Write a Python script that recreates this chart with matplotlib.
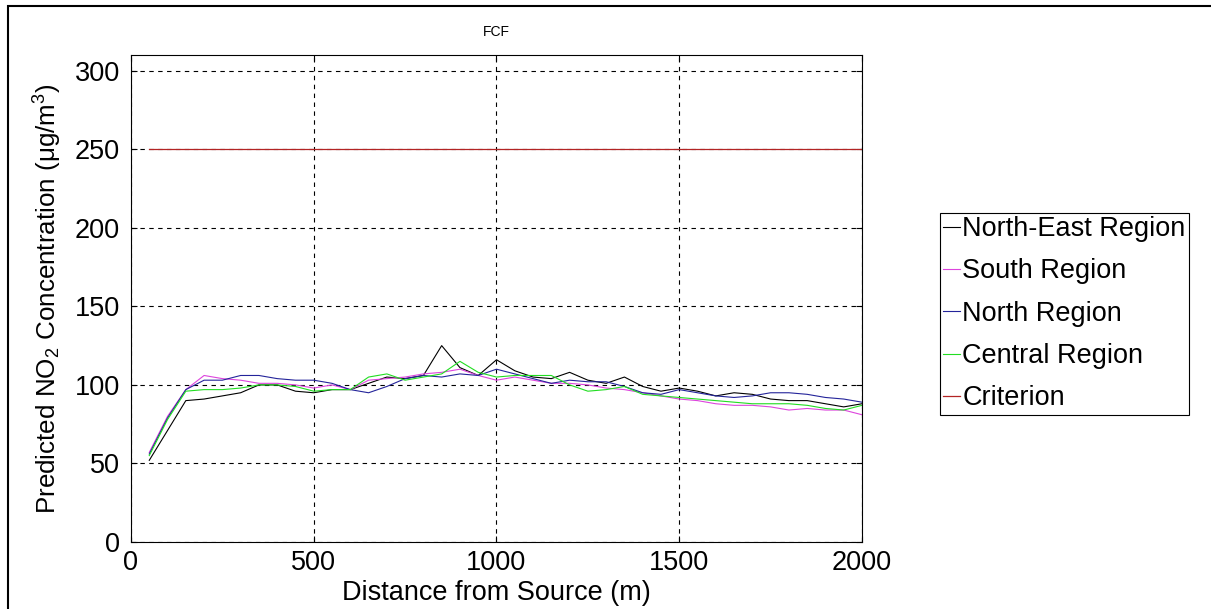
# NO2 concentration vs distance from source, FCF case
import matplotlib
matplotlib.use('Agg')
import matplotlib.pyplot as plt
from matplotlib.patches import Rectangle

plt.rcParams['font.family'] = ['Liberation Sans', 'DejaVu Sans']
plt.rcParams['mathtext.fontset'] = 'custom'
plt.rcParams['mathtext.rm'] = 'Liberation Sans'
plt.rcParams['mathtext.it'] = 'Liberation Sans:italic'

# data
distance = list(range(50, 2050, 50))
northEast = [52, 71, 90, 91, 93, 95, 100, 100, 96, 95,
             97, 97, 101, 105, 104, 106, 125, 111, 106, 116,
             109, 105, 104, 108, 103, 101, 105, 99, 96, 98,
             96, 93, 95, 94, 91, 90, 90, 88, 86, 88]
south = [57, 80, 97, 106, 104, 103, 101, 101, 100, 98,
         100, 97, 103, 104, 105, 107, 108, 110, 106, 103,
         105, 103, 101, 101, 100, 98, 97, 95, 93, 91,
         90, 88, 87, 87, 86, 84, 85, 84, 84, 81]
north = [56, 79, 97, 103, 103, 106, 106, 104, 103, 103,
         101, 97, 95, 99, 104, 106, 105, 107, 106, 110,
         107, 104, 101, 103, 102, 102, 99, 95, 94, 97,
         95, 93, 92, 93, 95, 95, 94, 92, 91, 89]
central = [55, 78, 96, 97, 97, 98, 100, 100, 99, 96,
           97, 97, 105, 107, 103, 105, 107, 115, 108, 105,
           106, 106, 106, 100, 96, 97, 99, 94, 93, 92,
           91, 90, 89, 88, 88, 88, 87, 85, 84, 87]
criterion = [250] * len(distance)

seriesNames = ['North-East Region', 'South Region', 'North Region',
               'Central Region', 'Criterion']
xTicks = [0, 500, 1000, 1500, 2000]
yTicks = [0, 50, 100, 150, 200, 250, 300]

fs = 19.5
W, H = 1211, 609
fig = plt.figure(figsize=(W / 100, H / 100), dpi=100)
fig.patch.set_facecolor('white')
ax = fig.add_axes([131 / W, 1 - 542 / H, (862 - 131) / W, (542 - 55) / H])

ax.plot(distance, northEast, color='black', linewidth=0.8, label=seriesNames[0])
ax.plot(distance, south, color='#dd44dd', linewidth=0.8, label=seriesNames[1])
ax.plot(distance, north, color='#24249a', linewidth=0.8, label=seriesNames[2])
ax.plot(distance, central, color='#22dd22', linewidth=0.8, label=seriesNames[3])
ax.plot(distance, criterion, color='#b32424', linewidth=0.9, label=seriesNames[4])

ax.set_xlim(0, 2000)
ax.set_ylim(0, 310)
ax.set_xticks(xTicks)
ax.set_yticks(yTicks)
ax.grid(True, color='black', linestyle=(0, (4, 4)), linewidth=0.8)
ax.tick_params(direction='in', length=4, labelsize=fs, top=True, right=True,
               width=0.8)
ax.tick_params(axis='x', pad=6)
ax.tick_params(axis='y', pad=8)
for sp in ax.spines.values():
    sp.set_linewidth(0.8)

ax.set_xlabel('Distance from Source (m)', fontsize=fs, labelpad=3)
ax.set_ylabel('Predicted NO$_2$ Concentration (\u03bcg/m$^3$)', fontsize=18.7,
              labelpad=8)
ax.set_title('FCF', fontsize=10, pad=14)

leg = ax.legend(loc='upper left', bbox_to_anchor=(940 / W, 1 - 213 / H),
                bbox_transform=fig.transFigure, fontsize=fs, frameon=True,
                fancybox=False, edgecolor='black', framealpha=1,
                borderaxespad=0, handlelength=0.6, handletextpad=0.1,
                labelspacing=0.6, borderpad=0.12)
leg.get_frame().set_linewidth(0.8)

# outer border of the figure
fig.patches.append(Rectangle((8 / W, -0.1), 1.2, 1.1 - 6 / H, fill=False,
                             edgecolor='black', linewidth=1.5,
                             transform=fig.transFigure, clip_on=False))

fig.savefig('out.png', dpi=100)
